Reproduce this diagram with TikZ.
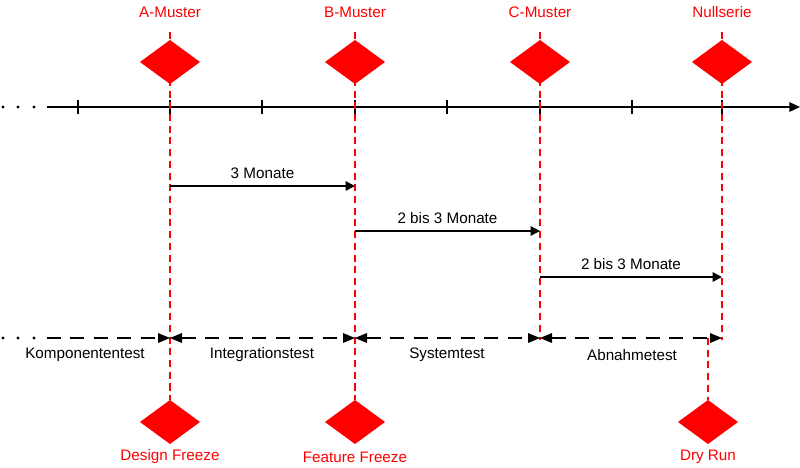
\documentclass[tikz,border=0pt]{standalone}
\usepackage{fontspec}
\setmainfont{Liberation Sans}
\usetikzlibrary{arrows.meta,positioning}
\tikzset{
  lbl/.style={text=red,font=\fontsize{13}{15}\selectfont},
  txt/.style={font=\fontsize{13}{15}\selectfont},
  rline/.style={red,line width=1.2pt,dash pattern=on 6pt off 4pt},
  dur/.style={-{Triangle[length=8pt,width=8pt]},line width=1.4pt},
  phase/.style={line width=2.4pt,dash pattern=on 12pt off 8pt},
  tip/.style={{Triangle[length=8pt,width=8pt]}}
}
\begin{document}
\begin{tikzpicture}[x=0.03cm,y=-0.03cm]
    \useasboundingbox (0,0) rectangle (800,467);
    %Zeitachse
    \foreach \x in {3,18,34} \fill (\x,107) circle (1.3pt);
    \draw[-{Triangle[length=9pt,width=8pt]},line width=1.6pt] (47,107) -- (800,107) coordinate (axisend);
    \foreach \x in {78,170,262,355,447,540,632,722}
        \draw[line width=1.4pt] (\x,100) -- (\x,114);

    %Muster oben
    \foreach \x/\name/\text in {170/A/A-Muster,355/B/B-Muster,540/C/C-Muster,722/N/Nullserie}{
        \node[lbl] (\name lbl) at (\x,12) {\text};
        \fill[red] (\x-30,62) -- (\x,40) -- (\x+30,62) -- (\x,84) -- cycle;
        \coordinate (\name top) at (\x,32);
        \coordinate (\name) at (\x,338);
    }
    \draw[rline] (Atop) -- (170,400);
    \draw[rline] (Btop) -- (355,400);
    \draw[rline] (Ctop) -- (540,340);
    \draw[rline] (Ntop) -- (722,340);
    \draw[rline] (708,338) -- (708,400);

    %Freezes unten
    \foreach \x/\name/\text in {170/DF/Design Freeze,355/FF/Feature Freeze,708/DR/Dry Run}{
        \fill[red] (\x-30,422) -- (\x,400) -- (\x+30,422) -- (\x,444) -- cycle;
        \node[lbl] (\name) at (\x,457) {\text};
    }

    %Dauer
    \draw[dur] (170,186) -- node[txt,above=2pt] {3 Monate} (355,186);
    \draw[dur] (355,231) -- node[txt,above=2pt] {2 bis 3 Monate} (540,231);
    \draw[dur] (540,277) -- node[txt,above=2pt] {2 bis 3 Monate} (722,277);

    %Testphasen
    \foreach \x in {3,18,34} \fill (\x,338) circle (1.3pt);
    \coordinate (start) at (47,338);
    \draw[phase] (start) -- (160,338);
    \fill (170,338) -- (158,333) -- (158,343) -- cycle;
    \foreach \a/\b in {170/355,355/540,540/722}{
        \draw[phase] (\a+12,338) -- (\b-12,338);
        \fill (\a,338) -- (\a+12,333) -- (\a+12,343) -- cycle;
        \fill (\b,338) -- (\b-12,333) -- (\b-12,343) -- cycle;
    }
    \node[txt] (kt) at (85,355) {Komponententest};
    \node[txt] (it) at (262,355) {Integrationstest};
    \node[txt] (st) at (447,355) {Systemtest};
    \node[txt] (at) at (632,355) {Abnahmetest};
\end{tikzpicture}
\end{document}
